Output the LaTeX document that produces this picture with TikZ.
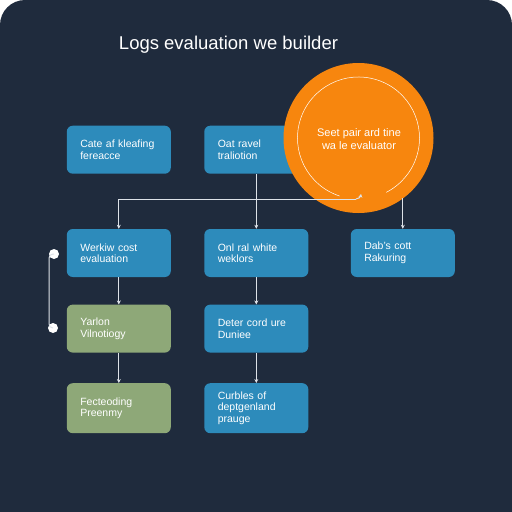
\documentclass[tikz,border=0pt]{standalone}
\usepackage{fontspec}
\setmainfont{Liberation Sans}
\usetikzlibrary{arrows.meta}
\definecolor{bgc}{HTML}{1F2B3D}
\definecolor{boxblue}{HTML}{2D8BBB}
\definecolor{boxgreen}{HTML}{8EA878}
\definecolor{orangec}{HTML}{F7860E}
\definecolor{linec}{HTML}{DDE2E8}
\tikzset{
  card/.style={rectangle, rounded corners=6pt, text width=77pt, inner xsep=13.5pt,
    minimum height=48pt, align=left, text=white,
    font=\fontsize{10.5}{11.5}\selectfont},
  bluecard/.style={card, fill=boxblue},
  greencard/.style={card, fill=boxgreen},
  conn/.style={draw=linec, line width=1pt},
  arr/.style={conn, -{Stealth[length=4pt,width=4pt]}},
  dotnode/.style={circle, fill=white, inner sep=0pt, minimum size=10pt}
}
\begin{document}
\begin{tikzpicture}[x=1pt,y=-1pt]
\useasboundingbox (0,0) rectangle (512,512);
\clip (0,0) rectangle (512,512);
\fill[white] (0,0) rectangle (512,512);
\fill[bgc, rounded corners=25pt] (0,0) rectangle (512,560);
% title
\node[text=white, font=\fontsize{18.5}{21}\selectfont] (title) at (228.5,45) {Logs evaluation we builder};
% boxes
\node[bluecard] (A) at (118.8,149.7) {Cate af kleafing\\fereacce};
\node[bluecard] (B) at (256.3,149.7) {Oat ravel\\traliotion};
\node[bluecard] (C) at (118.8,253) {Werkiw cost\\evaluation};
\node[bluecard] (D) at (256.3,253) {Onl ral white\\weklors};
\node[bluecard] (E) at (402.8,253) {Dab's cott\\Rakuring};
\node[greencard] (F) at (118.8,328.6) {Yarlon\\Vilnotiogy};
\node[bluecard] (G) at (256.3,328.6) {Deter cord ure\\Duniee};
\node[greencard, minimum height=50pt] (H) at (118.8,408.2) {Fecteoding\\Preenmy};
\node[bluecard, minimum height=50pt] (I) at (256.3,408.2) {Curbles of\\deptgenland\\prauge};
% circle
\node[circle, fill=orangec, minimum size=150pt, inner sep=0pt] (circ) at (358.5,138) {};
\draw[white, line width=0.5pt] (circ.center) ++(108:61) arc[start angle=108, end angle=423, radius=61];
\node[text=white, align=center, font=\fontsize{11}{13.5}\selectfont] (ctext) at (359,139) {Seet pair ard tine\\wa le evaluator};
% connectors
\coordinate (j1) at (118.8,199);
\coordinate (hk) at (356,199);
\draw[arr] (B.south) -- (D.north);
\draw[arr] (hk) -- (j1) -- (C.north);
\draw[conn, -{Stealth[length=3.5pt,width=4pt]}] (hk) to[out=0,in=-100] ++(5,-5);
\draw[arr] (E.north |- circ.-53.8) -- (E.north);
\draw[arr] (C.south) -- (F.north);
\draw[arr] (D.south) -- (G.north);
\draw[arr] (F.south) -- (H.north);
\draw[arr] (G.south) -- (I.north);
% left bracket
\node[dotnode] (d1) at (54,254) {};
\node[dotnode] (d2) at (53,328) {};
\draw[conn, rounded corners=4pt] (d1.center) -| (49,291) |- (d2.center);
\end{tikzpicture}
\end{document}
